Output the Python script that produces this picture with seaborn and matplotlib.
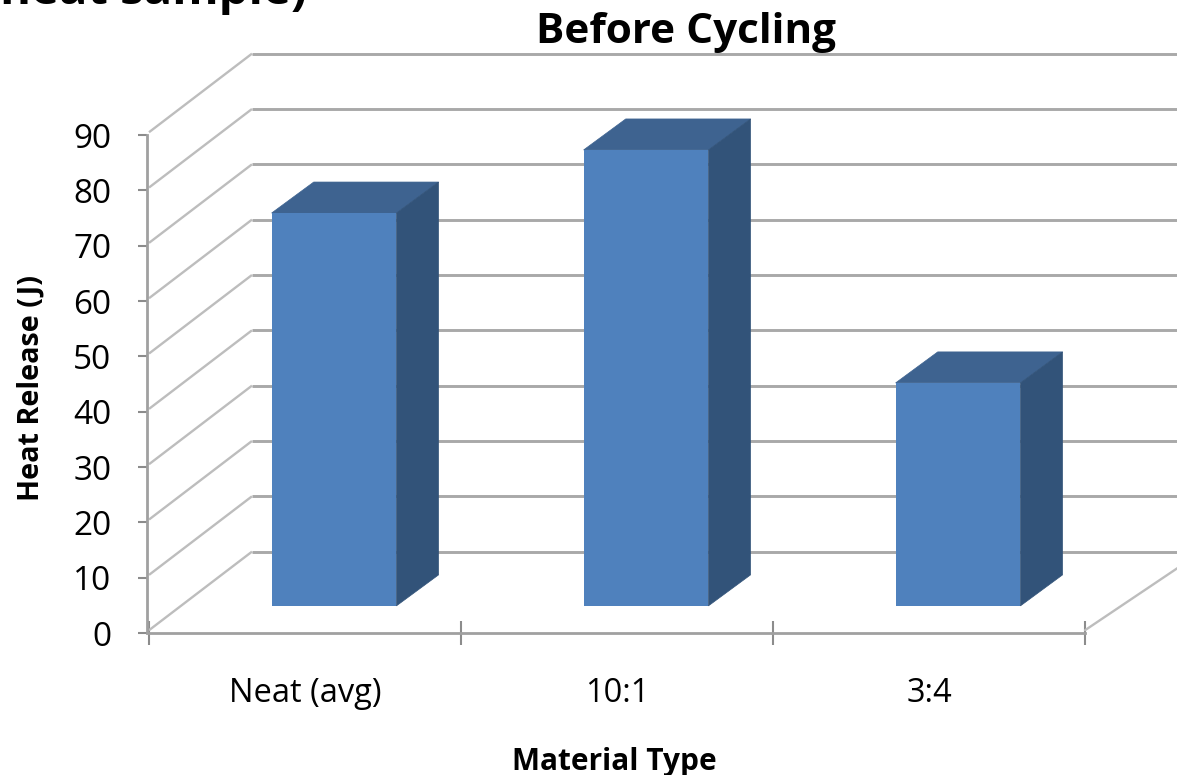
import matplotlib
matplotlib.use('Agg')
import matplotlib.pyplot as plt
from matplotlib.patches import Polygon
from matplotlib.transforms import Affine2D
import pandas as pd
import seaborn as sns

# Datos
materiales = ['Neat (avg)', '10:1', '3:4']
calor = [71.0, 82.4, 40.3]
ticks_y = [0, 10, 20, 30, 40, 50, 60, 70, 80, 90]

df = pd.DataFrame({'Material': materiales, 'Calor': calor})

sns.set_theme(style='white')
plt.rcParams['font.family'] = ['Open Sans', 'DejaVu Sans']

W, H = 1177, 775
fig = plt.figure(figsize=(W / 100, H / 100), dpi=100)
# ejes en pixeles: x 149-1085, y 633 (0) - 135 (90)
ax = fig.add_axes([149 / W, 1 - 633 / H, 936 / W, 498 / H])

ancho = 0.4
ax = sns.barplot(data=df, x='Material', y='Calor', color='#4F81BD', saturation=1,
                 width=ancho, ax=ax, zorder=5, edgecolor='none', linewidth=0)
ax.set_xlim(-0.5, 2.5)
ax.set_ylim(0, 90)

# profundidad 3D en unidades de datos
fondo_x, fondo_y = 0.33, 14.7
barra_x, barra_y = 0.093, 4.9
prof_x, prof_y = 0.135, 5.6
borde_x = 2.8

gris = '#A9A9A9'
for v in ticks_y:
    ax.plot([-0.5, -0.5 + fondo_x], [v + 0.5, v + fondo_y], color='#BDBDBD', lw=1.7,
            clip_on=False, zorder=1, solid_capstyle='butt')
    ax.plot([-0.5 + fondo_x, borde_x], [v + fondo_y, v + fondo_y], color=gris, lw=2.1,
            clip_on=False, zorder=1, solid_capstyle='butt')
ax.plot([2.5, 2.5 + fondo_x], [0.5, 13], color='#BDBDBD', lw=1.7, clip_on=False, zorder=1)

# mueve la cara frontal y dibuja tapa y lateral
mover = Affine2D().translate(barra_x, barra_y) + ax.transData
for barra, v in zip(ax.patches, calor):
    barra.set_transform(mover)
    barra.set_clip_on(False)
    x0 = barra.get_x()
    x1 = x0 + barra.get_width()
    tapa = [(x0, v), (x1, v), (x1 + prof_x, v + prof_y), (x0 + prof_x, v + prof_y)]
    lado = [(x1, 0), (x1 + prof_x, prof_y), (x1 + prof_x, v + prof_y), (x1, v)]
    ax.add_patch(Polygon(tapa, closed=True, fc='#3E6390', ec='#3E6390', lw=0.5, transform=mover,
                         clip_on=False, zorder=4))
    ax.add_patch(Polygon(lado, closed=True, fc='#325379', ec='#325379', lw=0.5, transform=mover,
                         clip_on=False, zorder=4))

sns.despine(ax=ax)
ax.spines['left'].set_position(('outward', 1.5))
ax.spines['left'].set_color('#A0A0A0')
ax.spines['left'].set_linewidth(2)
ax.spines['bottom'].set_color('#A0A0A0')
ax.spines['bottom'].set_linewidth(2)

ax.set_yticks(ticks_y)
ax.tick_params(axis='y', length=6.5, width=1.5, color='#8C8C8C', labelsize=24, pad=19,
               labelcolor='black', left=True)
ax.set_xticks([-0.5, 0.5, 1.5, 2.5], minor=True)
ax.tick_params(axis='x', which='minor', length=17, width=1.5, color='#8C8C8C', direction='inout',
               bottom=True)
ax.tick_params(axis='x', which='major', length=0, labelsize=23.5, pad=32, labelcolor='black')

ax.set_xlabel('Material Type', fontsize=21.5, fontweight='bold', color='black')
ax.xaxis.set_label_coords(0.497, -0.228)
ax.set_ylabel('Heat Release (J)', fontsize=20.7, fontweight='bold', color='black')
ax.yaxis.set_label_coords(-0.11, 0.492)

ax.text(0.5735, 1.205, 'Before Cycling', transform=ax.transAxes, ha='center', va='center',
        fontsize=30.4, fontweight='bold', color='black')
# titulo recortado en el borde superior de la imagen
fig.text(0, 1 - 4 / H, 'neat sample)', ha='left', va='baseline', fontsize=34,
         fontweight='bold', color='black')

fig.savefig('out.png', dpi=100, facecolor='white')
